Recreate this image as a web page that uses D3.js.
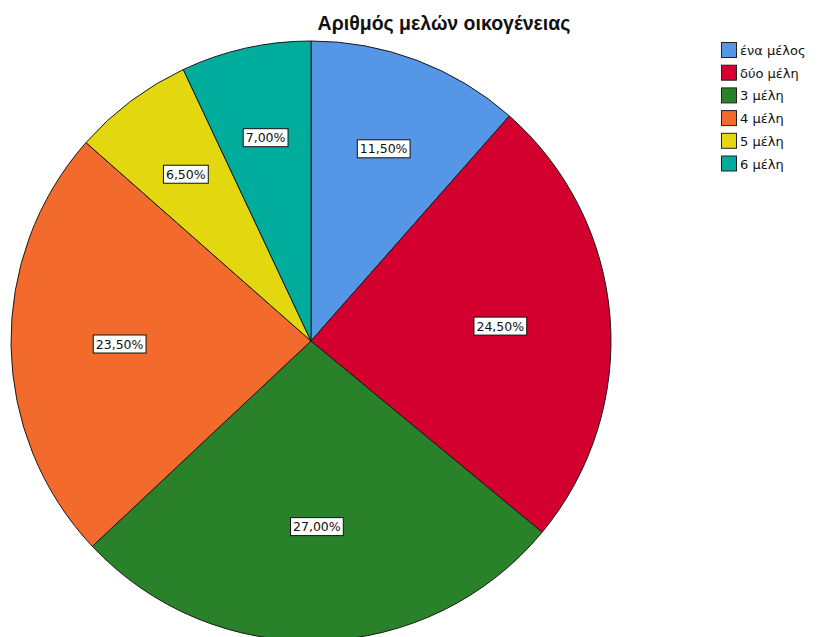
<!DOCTYPE html>
<html><head><meta charset="utf-8">
<script src="https://cdn.jsdelivr.net/npm/d3@7"></script>
<style>body{margin:0;background:#fff}svg{display:block}</style>
</head><body>
<svg id="c" width="818" height="637"></svg>
<script>
const categories = ["ένα μέλος", "δύο μέλη", "3 μέλη", "4 μέλη", "5 μέλη", "6 μέλη"];
const percents = [11.5, 24.5, 27.0, 23.5, 6.5, 7.0];
const colors = ["#5596E6", "#D3002F", "#298229", "#F26A2C", "#E3D710", "#00AD9C"];
const title = "Αριθμός μελών οικογένειας";

const svg = d3.select("#c");
const cx = 311, cy = 341, R = 300;

svg.append("text").attr("x", 444).attr("y", 30).attr("text-anchor", "middle")
  .attr("font-family", "Liberation Sans, Arial, sans-serif").attr("font-weight", "bold")
  .attr("font-size", 19.5).attr("fill", "#111").text(title);

const data = categories.map((c, i) => ({cat: c, v: percents[i], col: colors[i]}));
const pie = d3.pie().value(d => d.v).sort(null);
const arcs = pie(data);
const arc = d3.arc().innerRadius(0).outerRadius(R);
const g = svg.append("g").attr("transform", `translate(${cx},${cy})`);
g.selectAll("path").data(arcs).join("path")
  .attr("d", arc).attr("fill", d => d.data.col)
  .attr("stroke", "#1a1a1a").attr("stroke-width", 1);

const fmt = v => v.toFixed(2).replace(".", ",") + "%";
const lab = g.selectAll("g.lab").data(arcs).join("g").attr("class", "lab")
  .attr("transform", d => {
    const th = d.endAngle - d.startAngle;
    const dist = 1.05 * 4 * R * Math.sin(th / 2) / (3 * th);
    const a = (d.startAngle + d.endAngle) / 2;
    return `translate(${dist * Math.sin(a)},${-dist * Math.cos(a)})`;
  });
lab.append("text").attr("text-anchor", "middle").attr("dy", "0.36em")
  .attr("font-family", "DejaVu Sans, sans-serif").attr("font-size", 12.5)
  .attr("fill", "#111").text(d => fmt(d.data.v));
lab.each(function() {
  const t = d3.select(this).select("text");
  const b = t.node().getBBox();
  d3.select(this).insert("rect", "text")
    .attr("x", b.x - 2.5).attr("y", b.y - 1.5)
    .attr("width", b.width + 5).attr("height", b.height + 3)
    .attr("fill", "#fff").attr("stroke", "#111").attr("stroke-width", 1);
});

const lg = svg.append("g").attr("transform", "translate(721,42)");
const rows = lg.selectAll("g").data(data).join("g")
  .attr("transform", (d, i) => `translate(0,${i * 22.7})`);
rows.append("rect").attr("x", 0.5).attr("y", 0.5).attr("width", 15).attr("height", 15)
  .attr("fill", d => d.col).attr("stroke", "#222").attr("stroke-width", 1);
rows.append("text").attr("x", 19).attr("y", 13)
  .attr("font-family", "DejaVu Sans, sans-serif").attr("font-size", 13)
  .attr("fill", "#111").text(d => d.cat);
</script>
</body></html>
